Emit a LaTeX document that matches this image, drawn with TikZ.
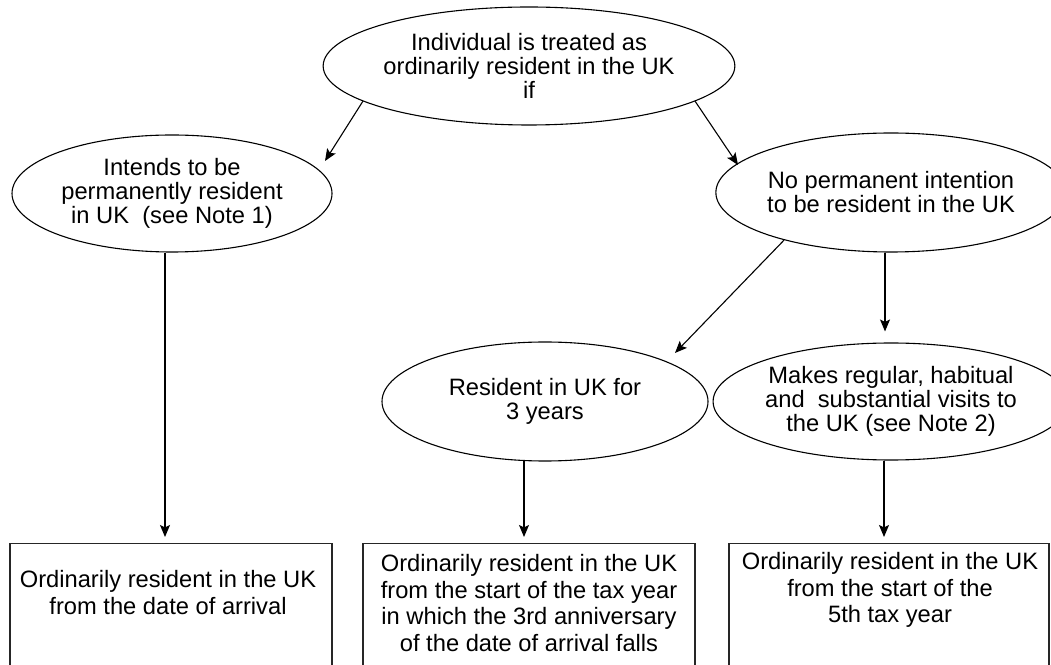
\documentclass[tikz,border=0pt]{standalone}
\usepackage{fontspec}
\setmainfont{Liberation Sans}
\usetikzlibrary{arrows.meta,shapes.geometric,calc}
\begin{document}
\begin{tikzpicture}[x=1pt,y=1pt,
  every node/.style={inner sep=0pt},
  oval/.style={draw, line width=1.1pt, ellipse, align=center,
    font=\fontsize{23.7}{24}\selectfont},
  outbox/.style={draw=black!85, line width=1.1pt, anchor=north,
    minimum height=160pt},
  boxtext/.style={anchor=north, align=center,
    font=\fontsize{23.7}{26.5}\selectfont},
  arr/.style={line width=1.1pt,
    -{Stealth[length=12pt,width=10pt,inset=2.5pt]}}]
\useasboundingbox (0,0) rectangle (1051,664);

% question ellipses
\node[oval, minimum width=322pt, minimum height=118pt] (top) at (529,598)
  {Individual is treated as\\ordinarily resident in the UK\\if};
\node[oval, minimum width=320pt, minimum height=117pt] (lft) at (172,470.5)
  {Intends to be\\permanently resident\\in UK\ \ (see Note 1)};
\node[oval, minimum width=318pt, minimum height=119pt] (rgt) at (891,471.5)
  {No permanent intention\\to be resident in the UK};
\node[oval, minimum width=326pt, minimum height=119pt] (mid) at (545,262.5)
  {Resident in UK for\\3 years};
\node[oval, minimum width=318pt, minimum height=117pt] (rlo) at (891,262.5)
  {Makes regular, habitual\\and\ \ substantial visits to\\the UK (see Note 2)};

% outcome boxes
\node[outbox, minimum width=322pt] (b1) at (171,121) {};
\node[outbox, minimum width=332pt] (b2) at (529,121) {};
\node[outbox, minimum width=320pt] (b3) at (889,121) {};
\node[boxtext] (t1) at (168,93.5)
  {Ordinarily resident in the UK\\from the date of arrival};
\node[boxtext] (t2) at (529,109.5)
  {Ordinarily resident in the UK\\from the start of the tax year\\in which the 3rd anniversary\\of the date of arrival falls};
\node[boxtext] (t3) at (890,111.5)
  {Ordinarily resident in the UK\\from the start of the\\5th tax year};

% connectors
\draw[arr] (top.192.6) -- ($(lft.center)+(153,32.5)$);
\draw[arr] (top.-12.6) -- ($(rgt.center)+(-153,27.5)$);
\draw[arr] (rgt.204.75) -- ($(mid.center)+(130,48.5)$);

\coordinate (s1) at ($(lft.south)+(-7,0)$);
\coordinate (s2) at ($(rgt.south)+(-6,0)$);
\coordinate (s3) at ($(mid.south)+(-21,0.5)$);
\coordinate (s4) at ($(rlo.south)+(-7,0)$);
\draw[arr, shorten >=6pt] (s1) -- (s1 |- b1.north);
\draw[arr, shorten >=11pt] (s2) -- (s2 |- rlo.north);
\draw[arr, shorten >=6pt] (s3) -- (s3 |- b2.north);
\draw[arr, shorten >=6pt] (s4) -- (s4 |- b3.north);
\end{tikzpicture}
\end{document}
